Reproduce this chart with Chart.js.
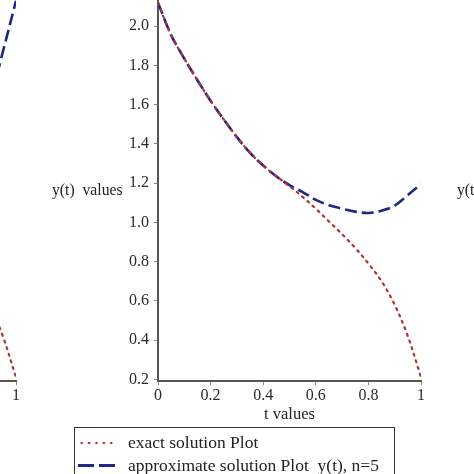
<!DOCTYPE html>
<html><head><meta charset="utf-8">
<script src="https://cdn.jsdelivr.net/npm/chart.js@4.4.0/dist/chart.umd.min.js"></script>
<style>
html,body{margin:0;padding:0;background:#fff;}
body{width:474px;height:474px;overflow:hidden;position:relative;font-family:"Liberation Serif","Times New Roman",serif;}
canvas{position:absolute;top:0;}
#left{left:-405px;}
#mid{left:0;}
.ylab{position:absolute;top:181px;font-size:15.7px;line-height:18px;white-space:pre;color:#222;}
#legend{position:absolute;left:74px;top:427px;width:321px;height:52px;border:1.5px solid #333;padding-top:3px;box-sizing:border-box;font-size:17.5px;color:#222;}
.row{height:23px;line-height:23px;white-space:pre;display:flex;align-items:center;}
.sym{width:37px;margin-left:3px;margin-right:13px;flex:none;}
.dots{height:4px;background-image:radial-gradient(circle, rgb(180,50,50) 1.1px, transparent 1.6px);background-size:7.4px 4px;}
.dash{height:3px;background:repeating-linear-gradient(90deg, rgb(30,40,130) 0 16px, transparent 16px 21px);}
</style>
</head><body>
<canvas id="left" width="474" height="423"></canvas>
<canvas id="mid" width="474" height="423"></canvas>
<div class="ylab" style="left:52px">y(t)  values</div>
<div class="ylab" style="left:457px">y(t)  values</div>
<div id="legend">
  <div class="row"><div class="sym dots"></div><span>exact solution Plot</span></div>
  <div class="row"><div class="sym dash"></div><span>approximate solution Plot  y(t), n=5</span></div>
</div>
<script>
const tValues = [0,0.05,0.1,0.15,0.2,0.25,0.3,0.35,0.4,0.45,0.5,0.55,0.6,0.65,0.7,0.75,0.8,0.85,0.9,0.95,1];
const exactValues = [2.12,1.955,1.835,1.725,1.62,1.525,1.435,1.355,1.29,1.235,1.185,1.13,1.07,1.005,0.94,0.87,0.79,0.70,0.58,0.42,0.21];
const approxN5 = [2.12,1.955,1.835,1.725,1.62,1.525,1.435,1.355,1.29,1.235,1.19,1.155,1.115,1.088,1.07,1.055,1.048,1.06,1.085,1.14,1.195];
const approxPrevPanel = [2.12,1.95,1.82,1.70,1.59,1.48,1.38,1.30,1.23,1.17,1.13,1.11,1.11,1.13,1.18,1.25,1.33,1.45,1.62,1.87,2.13];
const yTickValues = [0.2,0.4,0.6,0.8,1.0,1.2,1.4,1.6,1.8,2.0];
const xTickValues = [0,0.2,0.4,0.6,0.8,1];
const xTickLabels = ["0","0.2","0.4","0.6","0.8","1"];
const yMin = 0.19, yMax = 2.134;

const RED = 'rgb(180,50,50)', BLUE = 'rgb(30,40,130)';
const serif = '"Liberation Serif","Times New Roman",serif';

function pts(arr){ return tValues.map((t,i)=>({x:t,y:arr[i]})); }

function makeChart(id, approx){
  return new Chart(document.getElementById(id), {
    type:'line',
    data:{datasets:[
      {label:'exact solution Plot', data:pts(exactValues), borderColor:RED, borderWidth:2.2, borderDash:[2,5], borderCapStyle:'round', pointRadius:0, tension:0.35, fill:false},
      {label:'approximate solution Plot  y(t), n=5', data:pts(approx), borderColor:BLUE, borderWidth:2.6, borderDash:[12,5], pointRadius:0, tension:0.35, fill:false}
    ]},
    options:{
      responsive:false, animation:false, devicePixelRatio:1,
      layout:{padding:{left:0,right:53,top:0,bottom:0}},
      plugins:{legend:{display:false}, tooltip:{enabled:false}},
      scales:{
        x:{type:'linear', min:0, max:1,
          afterBuildTicks:s=>{ s.ticks = xTickValues.map(v=>({value:v})); },
          ticks:{callback:(v)=>xTickLabels[xTickValues.findIndex(t=>Math.abs(t-v)<1e-9)], padding:1, color:'#2a2a2a', font:{family:serif,size:16}, maxRotation:0},
          grid:{drawOnChartArea:false, drawTicks:true, tickLength:4, color:'#888'},
          border:{display:true, color:'#555', width:2},
          title:{display:true, text:'t values', color:'#222', font:{family:serif,size:16.5,lineHeight:1.0}, padding:{top:0,bottom:0}}
        },
        y:{type:'linear', min:yMin, max:yMax,
          afterBuildTicks:s=>{ s.ticks = yTickValues.map(v=>({value:v})); },
          afterFit:s=>{ s.width = 158; s.paddingTop = 0; s.paddingBottom = 0; },
          ticks:{callback:v=>Number(v).toFixed(1), padding:5, color:'#2a2a2a', font:{family:serif,size:16}},
          grid:{drawOnChartArea:false, drawTicks:true, tickLength:4, color:'#888'},
          border:{display:true, color:'#555', width:2}
        }
      }
    }
  });
}
makeChart('left', approxPrevPanel);
makeChart('mid', approxN5);
</script>
</body></html>
